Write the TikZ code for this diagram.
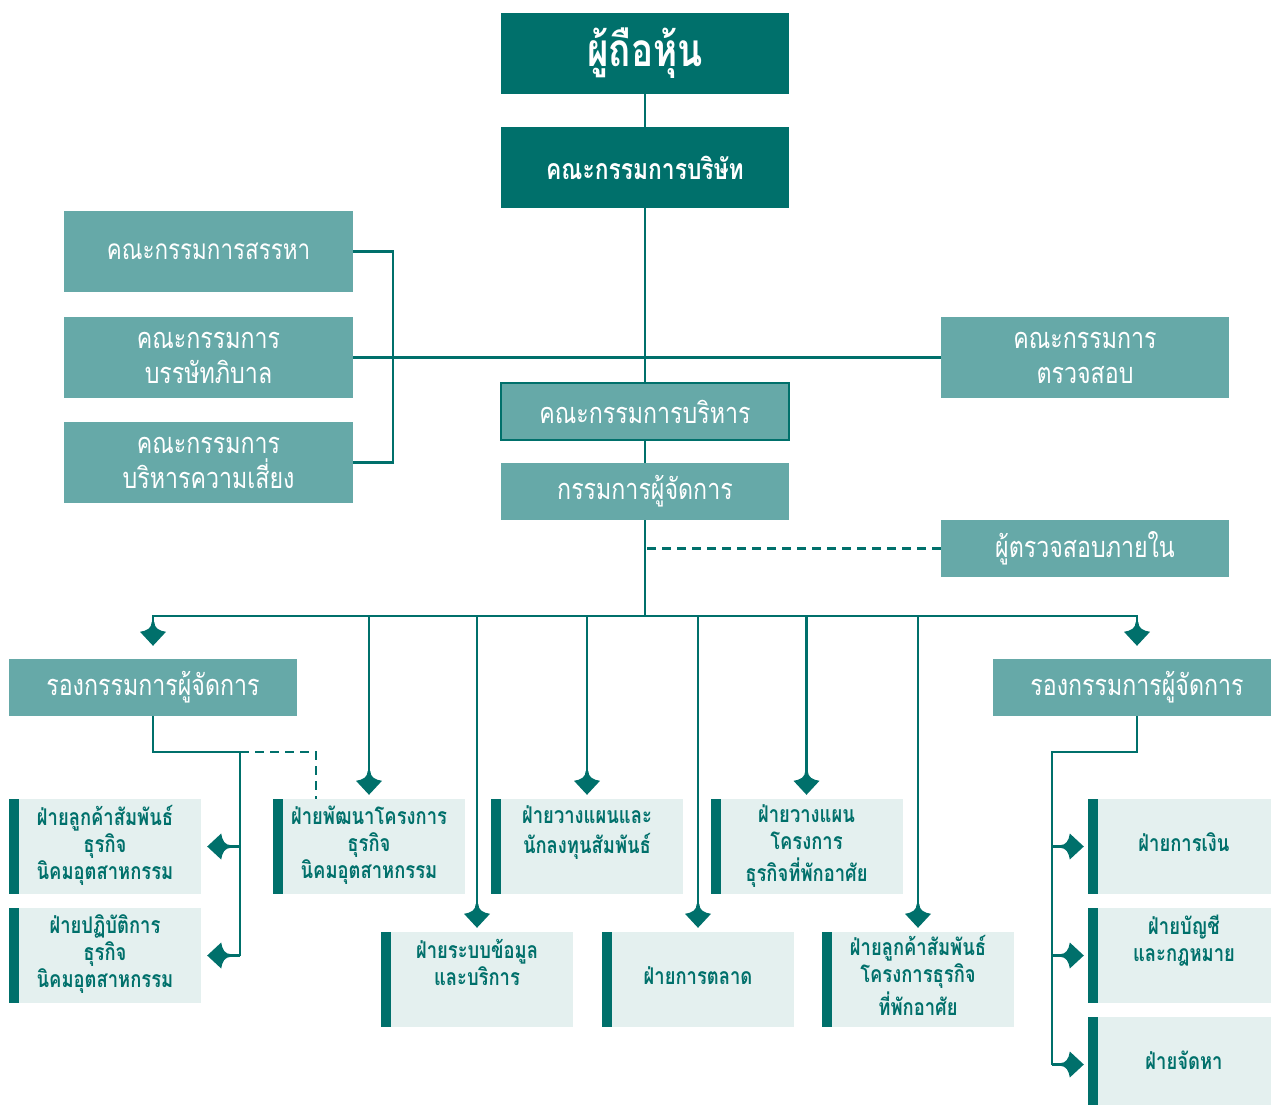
\documentclass[tikz,border=0pt]{standalone}
\usepackage{fontspec}
\newfontfamily\thai[Script=Thai,FakeStretch=0.8]{Loma}
\usetikzlibrary{arrows.meta}
\definecolor{tealdk}{HTML}{00706B}
\definecolor{tealmid}{HTML}{66A9A8}
\definecolor{tealpale}{HTML}{E4F0EF}
\pgfdeclarearrow{
  name = Swept,
  setup code = {
    \pgfarrowssettipend{0pt}
    \pgfarrowssetlineend{-17pt}
    \pgfarrowssetbackend{-24pt}
  },
  drawing code = {
    \pgfpathmoveto{\pgfpoint{0pt}{0pt}}
    \pgfpathlineto{\pgfpoint{-14pt}{13pt}}
    \pgfpathcurveto{\pgfpoint{-15pt}{6pt}}{\pgfpoint{-17.5pt}{1.4pt}}{\pgfpoint{-24pt}{1.25pt}}
    \pgfpathlineto{\pgfpoint{-24pt}{-1.25pt}}
    \pgfpathcurveto{\pgfpoint{-17.5pt}{-1.4pt}}{\pgfpoint{-15pt}{-6pt}}{\pgfpoint{-14pt}{-13pt}}
    \pgfpathclose
    \pgfusepathqfill
  }
}
\begin{document}
\begin{tikzpicture}[x=1pt,y=-1pt,
  conn/.style={draw, color=tealdk, line width=2.5pt},
  dashconn/.style={conn, dash pattern=on 9pt off 6pt},
  arr/.style={conn, -Swept, shorten >=4pt},
  darkbox/.style={fill=tealdk, text=white, inner sep=0pt, minimum width=288pt,
    minimum height=81pt, align=center, font=\thai\bfseries\fontsize{28.5}{34}\selectfont},
  midbox/.style={fill=tealmid, text=white, inner sep=0pt, minimum width=289pt,
    minimum height=81pt, align=center, font=\thai\fontsize{29}{35}\selectfont},
  palebox/.style={fill=tealpale, text=tealdk, inner sep=0pt, minimum width=192pt,
    minimum height=95pt, align=center, font=\thai\bfseries\fontsize{23}{27}\selectfont,
    path picture={\fill[tealdk] (path picture bounding box.north west) rectangle
      ([xshift=10pt]path picture bounding box.south west);}}
]
\useasboundingbox (0,0) rectangle (1271,1105);

% top chain
\node[darkbox, font=\thai\bfseries\fontsize{46}{52}\selectfont] (sh) at (645,53.5) {ผู้ถือหุ้น};
\node[darkbox] (bd) at (645,167.5) {คณะกรรมการบริษัท};

% committees
\node[midbox, font=\thai\fontsize{28}{35}\selectfont] (nom) at (208.5,251.5) {คณะกรรมการสรรหา};
\node[midbox] (gov) at (208.5,357.5) {คณะกรรมการ\\บรรษัทภิบาล};
\node[midbox] (risk) at (208.5,462.5) {คณะกรรมการ\\บริหารความเสี่ยง};
\node[midbox, minimum width=288pt] (aud) at (1085,357.5) {คณะกรรมการ\\ตรวจสอบ};

\node[midbox, minimum width=288pt, minimum height=57pt, draw=tealdk, line width=1.5pt] (ex) at (645,411.5) {คณะกรรมการบริหาร};
\node[midbox, minimum width=288pt, minimum height=57pt] (mdir) at (645,491.5) {กรรมการผู้จัดการ};
\node[midbox, minimum width=288pt, minimum height=57pt] (ia) at (1085,548.5) {ผู้ตรวจสอบภายใน};

\node[midbox, minimum width=288pt, minimum height=57pt] (vpl) at (153,687.5) {รองกรรมการผู้จัดการ};
\node[midbox, minimum width=288pt, minimum height=57pt] (vpr) at (1137,687.5) {รองกรรมการผู้จัดการ};

% departments
\node[palebox] (lcr) at (105,846.5) {\strut ฝ่ายลูกค้าสัมพันธ์\\\strut ธุรกิจ\\\strut นิคมอุตสาหกรรม};
\node[palebox] (ops) at (105,955.5) {\strut ฝ่ายปฏิบัติการ\\\strut ธุรกิจ\\\strut นิคมอุตสาหกรรม};
\node[palebox] (pd) at (369,846.5) {\strut ฝ่ายพัฒนาโครงการ\\\strut ธุรกิจ\\\strut นิคมอุตสาหกรรม};
\node[palebox] (is) at (477,979.5) {\strut ฝ่ายระบบข้อมูล\\\strut และบริการ\\\strut};
\node[palebox] (ir) at (587,846.5) {\strut ฝ่ายวางแผนและ\\\strut นักลงทุนสัมพันธ์\\\strut};
\node[palebox] (mk) at (698,979.5) {\strut ฝ่ายการตลาด};
\node[palebox] (rp) at (806.5,846.5) {\strut ฝ่ายวางแผน\\\strut โครงการ\\\strut ธุรกิจที่พักอาศัย};
\node[palebox] (rcr) at (918,979.5) {\strut ฝ่ายลูกค้าสัมพันธ์\\\strut โครงการธุรกิจ\\\strut ที่พักอาศัย};
\node[palebox] (fin) at (1184,846.5) {\strut ฝ่ายการเงิน};
\node[palebox] (acc) at (1184,955.5) {\strut ฝ่ายบัญชี\\\strut และกฎหมาย\\\strut};
\node[palebox] (proc) at (1184,1064.5) {\strut ฝ่ายจัดหา};

% connectors
\draw[conn] (sh.south) -- (bd.north);
\draw[conn] (bd.south) -- (ex.north);
\draw[conn] (gov.east) -- (aud.west);
\draw[conn] (nom.east) -- ++(40,0) |- (risk.east);
\draw[conn] (ex.south) -- (mdir.north);
\coordinate (bus) at (645,616);
\draw[conn] (mdir.south) -- (bus);
\draw[dashconn] (ia.west) -- (ia.west -| mdir.south);
\draw[arr, shorten >=13pt] (bus) -| (vpl.north);
\draw[arr, shorten >=13pt] (bus) -| (vpr.north);
\foreach \n in {pd,is,ir,mk,rp,rcr} \draw[arr] (\n.north |- bus) -- (\n.north);

% left VP subtree
\coordinate (lj) at (240,752);
\draw[conn] (vpl.south) |- (lj) -- (lj |- ops.east);
\draw[arr, shorten >=6pt] (lj |- lcr.east) -- (lcr.east);
\draw[arr, shorten >=6pt] (lj |- ops.east) -- (ops.east);
\draw[dashconn] (lj) -| ([xshift=43pt]pd.north west);

% right VP subtree
\coordinate (rj) at (1052,752);
\draw[conn] (vpr.south) |- (rj) -- (rj |- proc.west);
\draw[arr] (rj |- fin.west) -- (fin.west);
\draw[arr] (rj |- acc.west) -- (acc.west);
\draw[arr] (rj |- proc.west) -- (proc.west);
\end{tikzpicture}
\end{document}
